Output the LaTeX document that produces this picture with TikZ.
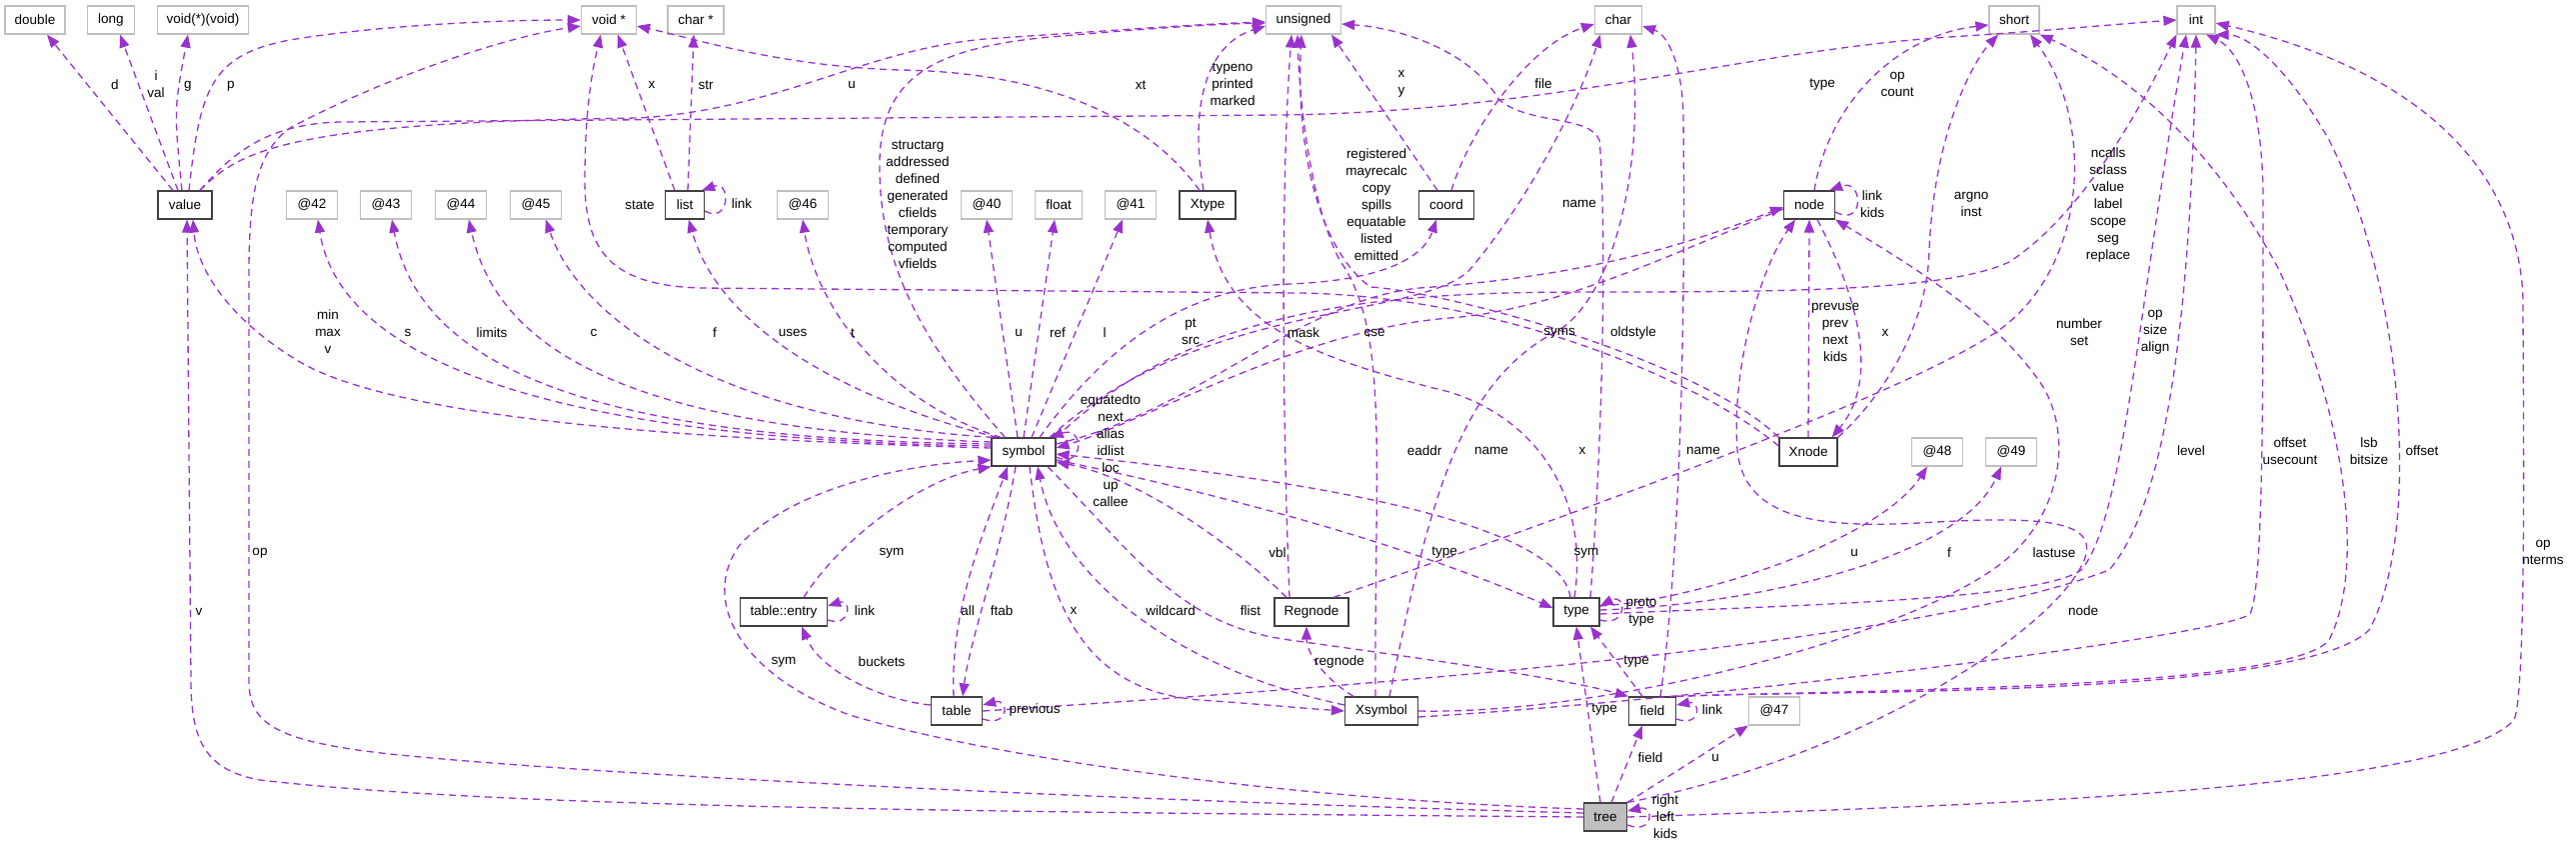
\documentclass[tikz,border=0pt]{standalone}
\usepackage{fontspec}
\setmainfont{Liberation Sans}
\definecolor{EdgeViolet}{HTML}{9A32CD}
\definecolor{BoxDark}{HTML}{404040}
\definecolor{BoxLight}{HTML}{BFBFBF}
\usetikzlibrary{arrows.meta}
\newcommand{\graphfont}{\fontsize{13.5}{17}\selectfont}
\tikzset{
  cls/.style={draw=BoxDark, line width=1.2pt, fill=white, minimum height=28pt, inner sep=0pt, font=\graphfont},
  ext/.style={draw=BoxLight, line width=1.2pt, fill=white, minimum height=28pt, inner sep=0pt, font=\graphfont},
  root/.style={cls, fill=BoxLight},
  member/.style={draw=EdgeViolet, line width=1.3pt, dash pattern=on 7pt off 5pt, -{Triangle[length=13pt,width=10pt]}},
  lbl/.style={font=\graphfont, align=center, inner sep=0pt}
}
\begin{document}
\begin{tikzpicture}[x=1pt, y=-1pt]
  \useasboundingbox (0,0) rectangle (2577,849);
  \node[ext, minimum width=60pt] (double) at (35,20) {double};
  \node[ext, minimum width=47pt] (long) at (111,20) {long};
  \node[ext, minimum width=91pt] (voidfn) at (203,20) {void(*)(void)};
  \node[ext, minimum width=55pt] (voidp) at (609,20) {void *};
  \node[ext, minimum width=56pt] (charp) at (696,20) {char *};
  \node[ext, minimum width=75pt] (unsigned) at (1304,20) {unsigned};
  \node[ext, minimum width=47pt] (char) at (1619,20) {char};
  \node[ext, minimum width=50pt] (short) at (2015,20) {short};
  \node[ext, minimum width=38pt] (int) at (2197,20) {int};
  \node[cls, minimum width=54pt] (value) at (185,205) {value};
  \node[ext, minimum width=51pt] (at42) at (312,205) {@42};
  \node[ext, minimum width=51pt] (at43) at (386,205) {@43};
  \node[ext, minimum width=51pt] (at44) at (461,205) {@44};
  \node[ext, minimum width=51pt] (at45) at (536,205) {@45};
  \node[cls, minimum width=39pt] (list) at (685,205) {list};
  \node[ext, minimum width=51pt] (at46) at (803,205) {@46};
  \node[ext, minimum width=51pt] (at40) at (987,205) {@40};
  \node[ext, minimum width=47pt] (float) at (1059,205) {float};
  \node[ext, minimum width=51pt] (at41) at (1131,205) {@41};
  \node[cls, minimum width=56pt] (Xtype) at (1208,205) {Xtype};
  \node[cls, minimum width=55pt] (coord) at (1447,205) {coord};
  \node[cls, minimum width=51pt] (node) at (1810,205) {node};
  \node[cls, minimum width=64pt] (symbol) at (1024,452) {symbol};
  \node[cls, minimum width=58pt] (Xnode) at (1809,452) {Xnode};
  \node[ext, minimum width=51pt] (at48) at (1938,452) {@48};
  \node[ext, minimum width=51pt] (at49) at (2012,452) {@49};
  \node[cls, minimum width=87pt] (tableentry) at (784,612) {table::entry};
  \node[cls, minimum width=74pt] (Regnode) at (1312,612) {Regnode};
  \node[cls, minimum width=46pt] (type) at (1577,612) {type};
  \node[cls, minimum width=51pt] (table) at (957,711) {table};
  \node[cls, minimum width=73pt] (Xsymbol) at (1382,711) {Xsymbol};
  \node[cls, minimum width=47pt] (field) at (1653,711) {field};
  \node[ext, minimum width=51pt] (at47) at (1775,711) {@47};
  \node[root, minimum width=43pt] (tree) at (1606,817) {tree};

  \draw[member] ([xshift=-12pt]value.north) -- ([xshift=12pt]double.south);
  \draw[member] ([xshift=-7pt]value.north) -- ([xshift=9pt]long.south);
  \draw[member] ([xshift=-3pt]value.north) .. controls (174,110) .. ([xshift=-15pt]voidfn.south);
  \draw[member] ([xshift=4pt]value.north) .. controls (200,90) and (210,55) .. (290,40) .. controls (380,25) and (500,20) .. (voidp.west);
  \draw[member] ([xshift=15pt]value.north) .. controls (240,150) and (290,122) .. (640,118) .. controls (790,108) and (870,45) .. (1000,38) .. controls (1120,30) and (1200,24) .. ([yshift=-2pt]unsigned.west);
  \draw[member] ([xshift=15pt]value.north) .. controls (235,150) and (270,124) .. (340,122) -- (1280,115) .. controls (1550,112) and (1750,50) .. (1950,37) .. controls (2060,30) and (2130,23) .. (int.west);

  \draw[member] ([yshift=4pt]symbol.west) .. controls (700,440) and (400,420) .. (300,362) .. controls (230,320) and (197,270) .. ([xshift=8pt]value.south);
  \draw[member] ([yshift=6pt]symbol.west) .. controls (550,440) and (340,360) .. ([xshift=6pt]at42.south);
  \draw[member] ([yshift=8pt]symbol.west) .. controls (600,440) and (420,370) .. ([xshift=6pt]at43.south);
  \draw[member] ([yshift=10pt]symbol.west) .. controls (650,430) and (500,360) .. ([xshift=8pt]at44.south);
  \draw[member] ([xshift=2pt]symbol.north west) .. controls (720,420) and (580,320) .. ([xshift=10pt]at45.south);
  \draw[member] ([xshift=6pt]symbol.north west) .. controls (850,400) and (720,330) .. ([xshift=4pt]list.south);
  \draw[member] ([xshift=10pt]symbol.north west) .. controls (880,400) and (815,300) .. (at46.south);
  \draw[member] ([xshift=14pt]symbol.north west) .. controls (920,340) and (878,260) .. (880,160) .. controls (882,80) and (930,50) .. (1040,38) .. controls (1150,28) and (1220,24) .. ([yshift=-3pt]unsigned.west);
  \draw[member] ([xshift=-6pt]symbol.north) -- (at40.south);
  \draw[member] (symbol.north) -- ([xshift=-4pt]float.south);
  \draw[member] ([xshift=8pt]symbol.north) -- ([xshift=-8pt]at41.south);
  \draw[member] ([xshift=16pt]symbol.north) .. controls (1110,340) and (1190,288) .. (1290,284) .. controls (1390,280) and (1425,255) .. ([xshift=-10pt]coord.south);
  \draw[member] ([yshift=8pt]symbol.east) .. controls (1200,410) and (1300,300) .. (1420,288) .. controls (1600,275) and (1700,240) .. ([yshift=-2pt]node.west);
  \draw[member] ([yshift=-4pt]node.west) .. controls (1680,250) and (1560,310) .. (1450,318) .. controls (1300,330) and (1150,420) .. ([yshift=4pt]symbol.east);
  \draw[member] ([xshift=26pt]symbol.north) .. controls (1200,300) and (1420,320) .. (1470,270) .. controls (1530,200) and (1580,100) .. ([xshift=-18pt]char.south);
  \draw[member] (symbol.north east) .. controls (1200,300) and (1400,292) .. (1600,292) .. controls (1800,292) and (1950,290) .. (2010,262) .. controls (2090,210) and (2150,90) .. (int.south west);
  \draw[member] ([yshift=-5pt]symbol.east) .. controls (1085,470) and (1085,425) .. ([xshift=-6pt]symbol.north east);
  \draw[member] ([yshift=-8pt]symbol.east) .. controls (1250,500) and (1420,550) .. ([yshift=4pt]type.west);
  \draw[member] ([xshift=-8pt]symbol.south) .. controls (1000,560) and (970,640) .. ([xshift=6pt]table.north);
  \draw[member] ([xshift=-3pt]table.north) .. controls (950,610) and (985,530) .. ([xshift=-16pt]symbol.south);
  \draw[member] ([xshift=6pt]symbol.south) .. controls (1045,600) and (1080,690) .. (1200,700) .. controls (1260,704) and (1300,708) .. (Xsymbol.west);
  \draw[member] ([yshift=6pt]Xsymbol.west) .. controls (1180,670) and (1060,580) .. ([xshift=14pt]symbol.south);
  \draw[member] ([xshift=24pt]symbol.south) .. controls (1140,560) and (1180,625) .. (1290,640) .. controls (1450,662) and (1570,680) .. (field.north west);
  \draw[member] ([xshift=20pt]tableentry.north) .. controls (840,540) and (920,480) .. (symbol.south west);
  \draw[member] ([yshift=8pt]tree.west) .. controls (1300,800) and (1000,760) .. (850,715) .. controls (740,675) and (700,600) .. (740,545) .. controls (790,490) and (900,465) .. ([yshift=-8pt]symbol.west);
  \draw[member] ([xshift=-25pt]Regnode.north) .. controls (1250,560) and (1150,480) .. ([yshift=-10pt]symbol.east);
  \draw[member] ([xshift=-6pt]type.north) .. controls (1560,520) and (1300,480) .. ([yshift=-2pt]symbol.east);

  \draw[member] ([xshift=-4pt]Xtype.north) .. controls (1190,110) and (1205,45) .. ([yshift=-6pt]unsigned.west);
  \draw[member] ([xshift=-8pt]Xtype.north) .. controls (1150,120) and (1050,72) .. (900,70) .. controls (780,66) and (700,40) .. ([yshift=-6pt]voidp.east);
  \draw[member] ([xshift=-2pt]type.north) .. controls (1590,500) and (1540,420) .. (1450,392) .. controls (1300,355) and (1225,320) .. (Xtype.south);
  \draw[member] ([xshift=-10pt]list.north) -- ([xshift=9pt]voidp.south);
  \draw[member] ([xshift=3pt]list.north) -- ([xshift=-2pt]charp.south);
  \draw[member] ([yshift=-6pt]list.east) .. controls (730,225) and (732,180) .. ([xshift=-3pt]list.north east);
  \draw[member] ([xshift=-9pt]coord.north) -- ([xshift=28pt]unsigned.south);
  \draw[member] ([xshift=5pt]coord.north) .. controls (1470,130) and (1530,45) .. ([yshift=-4pt]char.west);
  \draw[member] ([xshift=-22pt]Regnode.north) .. controls (1284,450) and (1280,200) .. ([xshift=-12pt]unsigned.south);
  \draw[member] ([xshift=-6pt]Xsymbol.north) .. controls (1375,450) and (1390,330) .. (1340,260) .. controls (1310,200) and (1300,100) .. ([xshift=-6pt]unsigned.south);
  \draw[member] (Xnode.north west) .. controls (1700,360) and (1450,292) .. (1371,287) .. controls (1320,250) and (1296,150) .. ([xshift=-2pt]unsigned.south);
  \draw[member] ([xshift=14pt]type.north) .. controls (1606,400) and (1606,200) .. (1600,140) .. controls (1590,115) and (1530,125) .. (1500,100) .. controls (1470,50) and (1400,28) .. ([yshift=-4pt]unsigned.east);
  \draw[member] ([xshift=8pt]Xsymbol.north) .. controls (1430,500) and (1460,380) .. (1560,330) .. controls (1620,290) and (1645,150) .. ([xshift=12pt]char.south);
  \draw[member] ([xshift=8pt]field.north) .. controls (1682,550) and (1686,300) .. (1684,120) .. controls (1684,70) and (1670,35) .. ([yshift=-6pt]char.east);
  \draw[member] ([yshift=6pt]Xnode.west) .. controls (1700,380) and (1500,296) .. (1300,293) -- (700,288) .. controls (610,285) and (585,250) .. (585,180) .. controls (585,100) and (595,60) .. ([xshift=-8pt]voidp.south);

  \draw[member] (Xnode.north) -- (node.south);
  \draw[member] ([xshift=8pt]node.south) .. controls (1860,300) and (1880,380) .. ([xshift=-6pt]Xnode.north east);
  \draw[member] (Xnode.north east) .. controls (1880,400) and (1928,330) .. (1930,250) .. controls (1935,130) and (1975,60) .. ([xshift=-16pt]short.south);
  \draw[member] ([xshift=5pt]node.north) .. controls (1830,100) and (1900,35) .. ([yshift=-5pt]short.west);
  \draw[member] ([yshift=-7pt]node.east) .. controls (1866,228) and (1864,178) .. ([xshift=-6pt]node.north east);
  \draw[member] ([xshift=22pt]Regnode.north) .. controls (1500,540) and (1900,400) .. (2000,330) .. controls (2090,265) and (2095,120) .. ([xshift=16pt]short.south);
  \draw[member] (tree.north east) .. controls (1850,760) and (2040,640) .. (2080,570) .. controls (2110,520) and (2050,515) .. (1920,523) .. controls (1820,528) and (1745,520) .. (1738,450) .. controls (1732,370) and (1760,270) .. ([xshift=-14pt]node.south);
  \draw[member] (Xsymbol.east) .. controls (1600,715) and (1900,640) .. (2000,565) .. controls (2060,520) and (2075,440) .. (2044,387) .. controls (2000,320) and (1920,270) .. (node.south east);

  \draw[member] ([yshift=6pt]type.east) .. controls (1700,600) and (1880,540) .. ([xshift=-10pt]at48.south);
  \draw[member] ([yshift=2pt]type.east) .. controls (1750,605) and (1960,560) .. ([xshift=-10pt]at49.south);
  \draw[member] ([yshift=-2pt]type.east) .. controls (1800,605) and (2040,600) .. (2082,570) .. controls (2125,520) and (2140,300) .. ([xshift=-10pt]int.south);
  \draw[member] (table.east) .. controls (1300,690) and (1900,650) .. (2110,570) .. controls (2170,500) and (2192,300) .. (int.south);
  \draw[member] (field.north east) .. controls (1800,690) and (2300,700) .. (2370,630) .. controls (2420,540) and (2410,300) .. (2330,140) .. controls (2290,70) and (2250,35) .. (int.south east);
  \draw[member] (field.north east) .. controls (1850,690) and (2290,690) .. (2330,640) .. controls (2370,560) and (2340,400) .. (2280,270) .. controls (2200,120) and (2100,60) .. (short.south east);
  \draw[member] ([yshift=-6pt]Xsymbol.east) .. controls (1700,700) and (2200,640) .. (2250,615) .. controls (2264,600) and (2264,400) .. (2264,200) .. controls (2264,100) and (2240,50) .. ([xshift=10pt]int.south);
  \draw[member] (tree.east) .. controls (2000,805) and (2450,790) .. (2515,720) .. controls (2528,690) and (2524,400) .. (2524,300) .. controls (2520,170) and (2420,70) .. ([yshift=-3pt]int.east);
  \draw[member] (tree.north east) -- (at47.south west);
  \draw[member] ([xshift=6pt]tree.north) -- ([xshift=-10pt]field.south);
  \draw[member] ([xshift=-5pt]tree.north) -- (type.south);
  \draw[member] ([xshift=-10pt]field.north) -- ([xshift=14pt]type.south);
  \draw[member] ([yshift=-8pt]type.east) .. controls (1628,628) and (1628,592) .. ([yshift=6pt]type.east);
  \draw[member] ([yshift=-8pt]field.east) .. controls (1702,728) and (1702,700) .. ([yshift=6pt]field.east);
  \draw[member] ([yshift=-8pt]tree.east) .. controls (1655,835) and (1655,805) .. ([yshift=6pt]tree.east);
  \draw[member] ([yshift=-8pt]table.east) .. controls (1010,728) and (1010,698) .. ([yshift=6pt]table.east);
  \draw[member] ([yshift=-8pt]tableentry.east) .. controls (852,628) and (852,598) .. ([yshift=6pt]tableentry.east);
  \draw[member] ([yshift=6pt]table.west) .. controls (880,700) and (820,670) .. ([xshift=18pt]tableentry.south);
  \draw[member] ([xshift=-28pt]Xsymbol.north) .. controls (1320,675) and (1307,650) .. ([xshift=-5pt]Regnode.south);
  \draw[member] (tree.west) .. controls (1000,812) and (500,808) .. (260,780) .. controls (205,770) and (191,740) .. (191,680) -- ([xshift=2pt]value.south);
  \draw[member] ([yshift=4pt]tree.west) .. controls (1100,800) and (600,775) .. (400,755) .. controls (270,742) and (249,722) .. (249,680) -- (249,330) .. controls (249,230) and (245,160) .. (290,128) .. controls (380,80) and (500,38) .. ([yshift=-6pt]voidp.west);

  \node[lbl] (lD) at (115,85) {d};
  \node[lbl] (lIval) at (156,84) {i\\val};
  \node[lbl] (lG) at (188,86) {g};
  \node[lbl] (lP) at (231,86) {p};
  \node[lbl] (lUa) at (852,85) {u};
  \node[lbl] (lTypea) at (1823,85) {type};
  \node[lbl] (lMinmax) at (328,332) {min\\max\\v};
  \node[lbl] (lS) at (408,333) {s};
  \node[lbl] (lLimits) at (492,333) {limits};
  \node[lbl] (lC) at (594,333) {c};
  \node[lbl] (lF) at (715,333) {f};
  \node[lbl] (lUses) at (793,333) {uses};
  \node[lbl] (lT) at (853,333) {t};
  \node[lbl] (lStruct) at (918,205) {structarg\\addressed\\defined\\generated\\cfields\\temporary\\computed\\vfields};
  \node[lbl] (lUb) at (1019,333) {u};
  \node[lbl] (lRef) at (1058,333) {ref};
  \node[lbl] (lL) at (1105,333) {l};
  \node[lbl] (lPtsrc) at (1191,332) {pt\\src};
  \node[lbl] (lCse) at (1375,333) {cse};
  \node[lbl] (lSyms) at (1560,333) {syms};
  \node[lbl] (lNamea) at (1580,204) {name};
  \node[lbl] (lNcalls) at (2109,205) {ncalls\\sclass\\value\\label\\scope\\seg\\replace};
  \node[lbl] (lEquated) at (1111,451) {equatedto\\next\\alias\\idlist\\loc\\up\\callee};
  \node[lbl] (lTypeb) at (1445,553) {type};
  \node[lbl] (lAll) at (968,611) {all};
  \node[lbl] (lFtab) at (1002,611) {ftab};
  \node[lbl] (lXa) at (1074,611) {x};
  \node[lbl] (lWild) at (1171,611) {wildcard};
  \node[lbl] (lFlist) at (1251,611) {flist};
  \node[lbl] (lSyma) at (892,553) {sym};
  \node[lbl] (lSymb) at (784,662) {sym};
  \node[lbl] (lVbl) at (1278,553) {vbl};
  \node[lbl] (lSymc) at (1587,553) {sym};
  \node[lbl] (lTypeno) at (1233,84) {typeno\\printed\\marked};
  \node[lbl] (lXt) at (1141,85) {xt};
  \node[lbl] (lXb) at (1583,451) {x};
  \node[lbl] (lXc) at (652,85) {x};
  \node[lbl] (lStr) at (706,85) {str};
  \node[lbl] (lLinka) at (742,204) {link};
  \node[lbl] (lXy) at (1402,84) {x\\y};
  \node[lbl] (lFile) at (1544,84) {file};
  \node[lbl] (lMask) at (1304,333) {mask};
  \node[lbl] (lEaddr) at (1425,451) {eaddr};
  \node[lbl] (lReg) at (1377,205) {registered\\mayrecalc\\copy\\spills\\equatable\\listed\\emitted};
  \node[lbl] (lOldstyle) at (1634,333) {oldstyle};
  \node[lbl] (lNameb) at (1492,451) {name};
  \node[lbl] (lNamec) at (1704,451) {name};
  \node[lbl] (lState) at (640,205) {state};
  \node[lbl] (lPrevuse) at (1836,332) {prevuse\\prev\\next\\kids};
  \node[lbl] (lXd) at (1886,333) {x};
  \node[lbl] (lArgno) at (1972,204) {argno\\inst};
  \node[lbl] (lOpcount) at (1898,84) {op\\count};
  \node[lbl] (lLinkkids) at (1873,204) {link\\kids};
  \node[lbl] (lNumber) at (2080,332) {number\\set};
  \node[lbl] (lNode) at (2084,611) {node};
  \node[lbl] (lLastuse) at (2055,553) {lastuse};
  \node[lbl] (lUc) at (1855,553) {u};
  \node[lbl] (lFb) at (1950,553) {f};
  \node[lbl] (lOpsize) at (2156,332) {op\\size\\align};
  \node[lbl] (lLevel) at (2192,451) {level};
  \node[lbl] (lOffset) at (2423,451) {offset};
  \node[lbl] (lLsb) at (2370,451) {lsb\\bitsize};
  \node[lbl] (lOffuse) at (2291,451) {offset\\usecount};
  \node[lbl] (lOpnterms) at (2544,552) {op\\nterms};
  \node[lbl] (lUd) at (1716,758) {u};
  \node[lbl] (lField) at (1651,758) {field};
  \node[lbl] (lTypec) at (1605,710) {type};
  \node[lbl] (lTyped) at (1637,662) {type};
  \node[lbl] (lProto) at (1642,612) {proto\\type};
  \node[lbl] (lLinkb) at (1713,710) {link};
  \node[lbl] (lRight) at (1666,817) {right\\left\\kids};
  \node[lbl] (lPrevious) at (1035,710) {previous};
  \node[lbl] (lLinkc) at (865,611) {link};
  \node[lbl] (lBuckets) at (882,662) {buckets};
  \node[lbl] (lRegnode) at (1340,662) {regnode};
  \node[lbl] (lV) at (199,612) {v};
  \node[lbl] (lOp) at (260,553) {op};
\end{tikzpicture}
\end{document}
